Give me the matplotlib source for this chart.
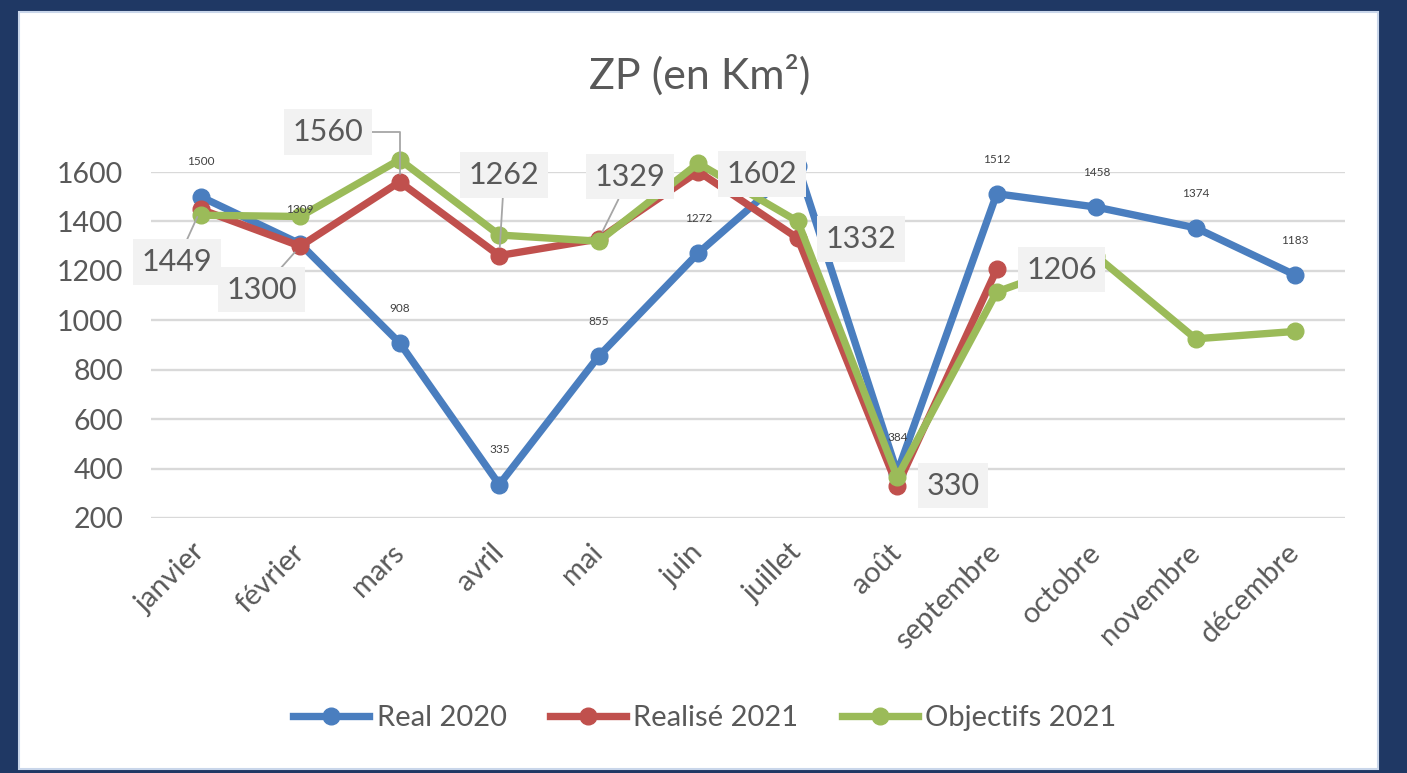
import numpy as np
import matplotlib
matplotlib.use('Agg')
import matplotlib.pyplot as plt
from matplotlib.patches import Rectangle

plt.rcParams['font.family'] = ['Lato', 'DejaVu Sans']

months = ['janvier', 'février', 'mars', 'avril', 'mai', 'juin', 'juillet',
          'août', 'septembre', 'octobre', 'novembre', 'décembre']
real_2020 = [1500, 1309, 908, 335, 855, 1272, 1624, 384, 1512, 1458, 1374, 1183]
realise_2021 = [1449, 1300, 1560, 1262, 1329, 1602, 1332, 330, 1206,
                np.nan, np.nan, np.nan]
objectifs_2021 = [1425, 1420, 1650, 1345, 1320, 1635, 1400, 365, 1115, 1260, 925, 955]
yticks = [200, 400, 600, 800, 1000, 1200, 1400, 1600]

# où Excel a posé les étiquettes de "Realisé 2021" (coord. données) + ligne de rappel
label_pos = [(-0.24, 1236), (0.61, 1123), (1.28, 1762), (3.05, 1588), (4.31, 1580),
             (5.64, 1592), (6.64, 1329), (7.56, 330), (8.65, 1204)]
leader = ['-', '-', 'angle', '-', '-', None, None, None, None]

blue = '#4a7ebf'
red = '#c0504d'
green = '#9bbb59'
grey_txt = '#595959'

fig = plt.figure(figsize=(14.07, 7.73), dpi=100, facecolor='#1f3864')
# panneau blanc du slide
fig.patches.append(Rectangle((19/1407, 4/773), (1378-19)/1407, (761-4)/773,
                             transform=fig.transFigure, fc='white', ec='#c9d6ea', lw=1.5, zorder=-10))

ax = fig.add_axes([151/1407, 1-518/773, (1345-151)/1407, (518-172)/773])
ax.set_facecolor('none')
x = np.arange(len(months))

ax.plot(x, real_2020, '-o', color=blue, lw=5.3, ms=12, label='Real 2020', clip_on=False, zorder=3)
ax.plot(x, realise_2021, '-o', color=red, lw=5.3, ms=12, label='Realisé 2021', clip_on=False, zorder=4)
ax.plot(x, objectifs_2021, '-o', color=green, lw=5.3, ms=12, label='Objectifs 2021', clip_on=False, zorder=5)

ax.set_xlim(-0.5, 11.5)
ax.set_ylim(200, 1600)
ax.set_yticks(yticks)
ax.set_xticks(x)
ax.set_xticklabels(months, rotation=45, ha='right', va='center', rotation_mode='anchor')
ax.tick_params(axis='x', length=0, pad=22, labelsize=21, labelcolor=grey_txt)
ax.tick_params(axis='y', length=0, pad=20, labelsize=20.5, labelcolor=grey_txt)
ax.grid(axis='y', color='#d9d9d9', lw=1.7, zorder=0)
ax.set_axisbelow(True)
for s in ax.spines.values():
    s.set_visible(False)

# petites étiquettes Real 2020
for i, v in enumerate(real_2020):
    ax.annotate(str(v), (i, v), xytext=(0, 25), textcoords='offset points',
                ha='center', va='center', fontsize=8.5, color='#404040', zorder=8)

# grandes étiquettes Realisé 2021
for i, v in enumerate(realise_2021):
    if np.isnan(v):
        continue
    ap = None
    if leader[i] == '-':
        ap = dict(arrowstyle='-', color='#a6a6a6', lw=1.3, shrinkA=0, shrinkB=6)
    elif leader[i] == 'angle':
        ap = dict(arrowstyle='-', color='#a6a6a6', lw=1.3, shrinkA=0, shrinkB=6,
                  connectionstyle='angle,angleA=0,angleB=90,rad=0')
    ax.annotate(str(int(v)), (i, v), xytext=label_pos[i], textcoords='data',
                ha='center', va='center', fontsize=22, color=grey_txt, zorder=9,
                bbox=dict(boxstyle='square,pad=0.28', fc='#f2f2f2', ec='none'),
                arrowprops=ap, annotation_clip=False)

fig.text(700/1407, 1-75/773, 'ZP (en Km²)', ha='center', va='center', fontsize=31, color=grey_txt)

fig.legend(loc='center', bbox_to_anchor=(705/1407, 1-718/773), ncol=3, frameon=False,
           fontsize=21, labelcolor=grey_txt, handlelength=2.6, handletextpad=0.25,
           columnspacing=1.5)

plt.savefig('out.png', dpi=100, facecolor=fig.get_facecolor())
